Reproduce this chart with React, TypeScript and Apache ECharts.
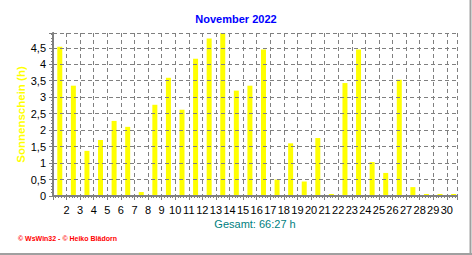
import React, { useEffect, useRef } from "react";
import * as echarts from "echarts";

const days = [1, 2, 3, 4, 5, 6, 7, 8, 9, 10, 11, 12, 13, 14, 15, 16, 17, 18, 19, 20, 21, 22, 23, 24, 25, 26, 27, 28, 29, 30];
const sunshineHours = [4.53, 3.35, 1.37, 1.7, 2.28, 2.1, 0.12, 2.77, 3.59, 2.62, 4.17, 4.78, 4.95, 3.2, 3.35, 4.45, 0.5, 1.6, 0.44, 1.76, 0, 3.43, 4.45, 1.03, 0.7, 3.53, 0.27, 0, 0, 0];
const xTickLabels = ["2", "3", "4", "5", "6", "7", "8", "9", "10", "11", "12", "13", "14", "15", "16", "17", "18", "19", "20", "21", "22", "23", "24", "25", "26", "27", "28", "29", "30"];
const yMax = 4.95;
const xMax = 29.75;
const titleText = "November 2022";
const yAxisTitle = "Sonnenschein (h)";
const totalText = "Gesamt: 66:27 h";
const footerText = "© WsWin32 - © Heiko Blädorn";

const FONT = "Arial, 'Liberation Sans', Helvetica, sans-serif";

export default function App() {
  const ref = useRef<HTMLDivElement>(null);
  useEffect(() => {
    if (!ref.current) return;
    const chart = echarts.init(ref.current, null, { renderer: "svg" });
    const option: any = {
      animation: false,
      backgroundColor: "#ffffff",
      title: {
        text: titleText,
        left: "center",
        top: 13,
        padding: 0,
        textStyle: { color: "#0000ff", fontWeight: "bold", fontSize: 11, fontFamily: FONT },
      },
      grid: { left: 53, right: 15, top: 33, bottom: 59, outerBoundsMode: "none" },
      xAxis: [
        {
          type: "value",
          min: 0,
          max: xMax,
          interval: 1,
          z: 3,
          name: totalText,
          nameLocation: "middle",
          nameGap: 22,
          nameMoveOverlap: false,
          nameTextStyle: { color: "#008080", fontSize: 11, fontFamily: FONT },
          axisLine: { show: true, onZero: false, lineStyle: { color: "#808080", width: 2 } },
          axisTick: { show: true, length: 4, lineStyle: { color: "#808080" } },
          minorTick: { show: true, splitNumber: 5, length: 2, lineStyle: { color: "#808080" } },
          splitLine: { show: true, lineStyle: { color: "#808080", type: [4, 3], width: 1 } },
          axisLabel: {
            color: "#000000",
            fontSize: 11,
            fontFamily: FONT,
            margin: 8,
            showMinLabel: true,
            showMaxLabel: true,
            formatter: (v: number) => {
              const r = Math.round(v);
              if (Math.abs(v - r) > 1e-6 || r < 1 || r > xTickLabels.length) return "";
              return xTickLabels[r - 1];
            },
          },
        },
        {
          type: "value",
          position: "top",
          min: 0,
          max: xMax,
          axisLine: { show: true, lineStyle: { color: "#000000", width: 1 } },
          axisTick: { show: false },
          axisLabel: { show: false },
          splitLine: { show: false },
        },
      ],
      yAxis: [
        {
          type: "value",
          min: 0,
          max: yMax,
          interval: 0.5,
          z: 3,
          name: yAxisTitle,
          nameLocation: "middle",
          nameRotate: 90,
          nameGap: 26,
          nameMoveOverlap: false,
          nameTextStyle: { color: "#ffff00", fontWeight: "bold", fontSize: 11.5, fontFamily: FONT },
          axisLine: { show: true, lineStyle: { color: "#808080", width: 2 } },
          axisTick: { show: true, length: 4, lineStyle: { color: "#808080" } },
          minorTick: { show: true, splitNumber: 5, length: 2, lineStyle: { color: "#808080" } },
          splitLine: { show: true, lineStyle: { color: "#808080", type: [4, 3], width: 1 } },
          axisLabel: {
            color: "#000000",
            fontSize: 11,
            fontFamily: FONT,
            margin: 7,
            formatter: (v: number) => {
              if (Math.abs(v * 2 - Math.round(v * 2)) > 1e-6) return "";
              return String(v).replace(".", ",");
            },
          },
        },
        {
          type: "value",
          position: "right",
          min: 0,
          max: yMax,
          axisLine: { show: true, lineStyle: { color: "#000000", width: 1 } },
          axisTick: { show: false },
          axisLabel: { show: false },
          splitLine: { show: false },
        },
      ],
      graphic: [
        {
          type: "text",
          left: 18,
          top: 235,
          style: { text: footerText, fill: "#ff0000", font: "bold 7px " + FONT },
        },
        {
          type: "line",
          shape: { x1: 470.5, y1: 0, x2: 470.5, y2: 255 },
          style: { stroke: "#a0a0a0", lineWidth: 2 },
        },
        {
          type: "line",
          shape: { x1: 0, y1: 254, x2: 472, y2: 254 },
          style: { stroke: "#a0a0a0", lineWidth: 2 },
        },
      ],
      series: [
        {
          type: "bar",
          xAxisIndex: 0,
          yAxisIndex: 0,
          barWidth: 5,
          barMinHeight: 2,
          itemStyle: { color: "#ffff00" },
          data: days.map((d, i) => [d - 0.5, sunshineHours[i]]),
        },
      ],
    };
    chart.setOption(option);
    return () => chart.dispose();
  }, []);
  return (
    <div
      ref={ref}
      style={{ position: "absolute", left: 0, top: 0, width: 472, height: 255 }}
    />
  );
}
